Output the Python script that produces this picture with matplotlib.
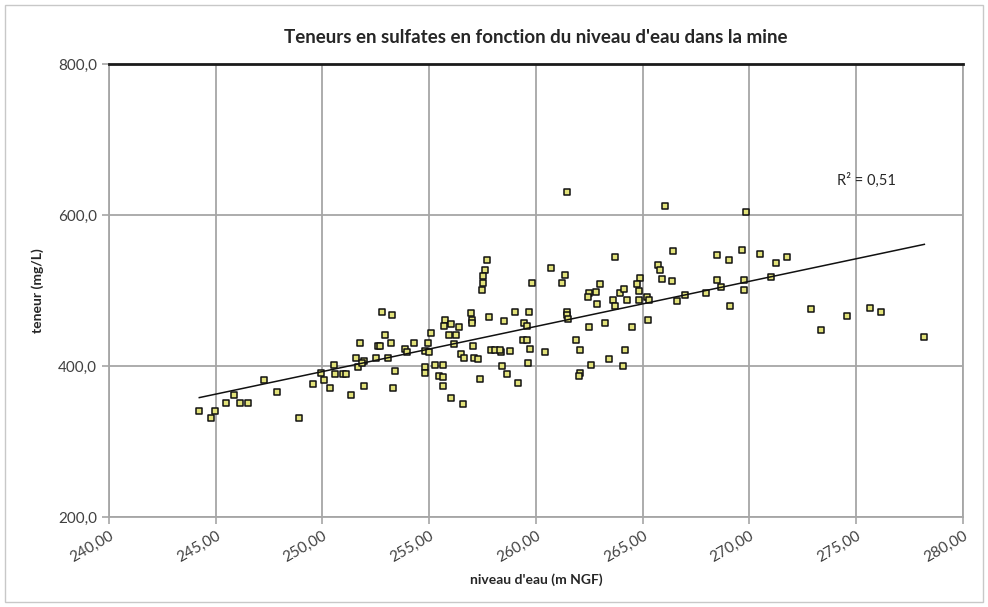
import matplotlib
matplotlib.use("Agg")
from matplotlib import pyplot as plt
from matplotlib.patches import Rectangle
from matplotlib.ticker import FuncFormatter
import numpy as np

plt.rcParams['font.family'] = ['Lato', 'DejaVu Sans']

# niveau d'eau (m NGF) et teneur en sulfates (mg/L)
niveau = [
    244.23, 244.76, 244.98, 245.48, 245.84, 246.15, 246.52, 247.26, 247.88, 248.91, 249.55,
    257.53, 257.45, 257.70, 257.60, 257.50,
    252.81, 253.26, 256.94, 257.00, 257.00, 257.78, 258.50, 259.03, 255.76, 255.68,
    256.00, 256.39, 255.94, 256.25, 255.06, 252.95, 253.19, 251.78, 252.58, 252.69,
    254.28, 254.96, 253.86, 253.94, 254.82, 255.00, 256.18, 257.07, 251.55, 251.94,
    251.67, 251.85, 252.52, 253.06, 256.48, 256.63, 257.11, 257.30, 257.87, 258.10,
    258.35, 258.76, 258.31, 249.94, 250.53, 250.57, 250.97, 251.10, 250.07, 250.35,
    251.32, 251.96, 253.32, 253.40, 254.82, 254.79, 255.27, 255.63, 255.47, 255.65,
    255.65, 256.00, 256.56, 257.37, 258.43, 258.65, 259.18,
    263.70, 266.40, 268.46, 260.70, 261.37, 261.23, 259.82, 265.73, 265.80, 265.90,
    266.38, 268.48, 263.00, 264.87, 264.74, 264.81, 264.81, 262.49, 262.42, 262.82,
    263.93, 264.12, 263.62, 264.27, 262.87, 263.69, 265.18, 265.29, 266.62, 267.00,
    267.95, 259.68, 259.44, 259.56, 261.44, 261.46, 261.51, 262.48, 263.21, 264.49,
    265.24, 259.40, 259.59, 259.72, 260.43, 259.64, 261.89, 262.07, 262.59, 262.07,
    262.03, 263.40, 264.18, 264.06,
    261.46, 266.02, 269.84, 269.05, 269.67,
    270.49, 271.24, 271.74, 268.65, 269.76, 269.74, 269.08, 271.00, 272.88, 273.36,
    274.57, 275.63, 276.17, 278.19,
]
teneur = [
    341, 331, 341, 351, 361, 351, 351, 381, 366, 331, 376,
    510, 500, 541, 527, 519,
    472, 468, 470, 461, 457, 465, 460, 472, 461, 453,
    456, 451, 441, 441, 444, 441, 431, 431, 427, 427,
    431, 431, 423, 418, 420, 419, 429, 426, 410, 407,
    398, 404, 411, 411, 416, 411, 411, 409, 421, 421,
    418, 420, 421, 391, 401, 390, 390, 390, 381, 371,
    361, 374, 371, 394, 399, 391, 401, 401, 387, 385,
    373, 357, 350, 383, 400, 390, 378,
    545, 552, 547, 530, 520, 510, 510, 534, 527, 515,
    512, 514, 509, 516, 509, 499, 488, 496, 491, 498,
    496, 502, 488, 488, 482, 480, 492, 487, 486, 494,
    497, 472, 457, 453, 471, 468, 462, 452, 457, 451,
    461, 434, 434, 423, 419, 404, 435, 421, 401, 391,
    387, 409, 421, 400,
    630, 612, 604, 540, 554,
    548, 537, 544, 505, 514, 500, 480, 518, 476, 447,
    466, 477, 471, 439,
]
r2_label = "R² = 0,51"

x = np.array(niveau)
y = np.array(teneur)

fig = plt.figure(figsize=(9.88, 6.07), dpi=100)
fig.patches.append(Rectangle((0.005, 0.008), 0.99, 0.984, transform=fig.transFigure,
                             fill=False, edgecolor='#c8c8c8', linewidth=1))
ax = fig.add_axes([0.1103, 0.1483, 0.8644, 0.7463])

ax.set_xlim(240, 280)
ax.set_ylim(200, 800)
ax.set_xticks(np.arange(240, 281, 5))
ax.set_yticks([200, 400, 600, 800])
ax.grid(True, color='#a6a6a6', linewidth=1.3)
ax.set_axisbelow(True)
for side in ['left', 'right', 'bottom']:
    ax.spines[side].set_color('#a6a6a6')
    ax.spines[side].set_linewidth(1.3)
ax.spines['top'].set_color('#1a1a1a')
ax.spines['top'].set_linewidth(2)

ax.xaxis.set_major_formatter(FuncFormatter(lambda v, p: f"{v:.2f}".replace('.', ',')))
ax.yaxis.set_major_formatter(FuncFormatter(lambda v, p: f"{v:.1f}".replace('.', ',')))
ax.tick_params(axis='both', colors='#a6a6a6', labelcolor='#404040', labelsize=11,
               length=5, width=1.2)
plt.setp(ax.get_xticklabels(), rotation=30, ha='right', rotation_mode='anchor')

ax.scatter(x, y, marker='s', s=24, facecolor='#e2e27a', edgecolor='#111111',
           linewidth=1.1, zorder=3)

# droite de tendance linéaire
a, b = np.polyfit(x, y, 1)
xs = np.array([x.min(), x.max()])
ax.plot(xs, a * xs + b, color='#111111', linewidth=1.1, zorder=4)
ax.text(274.1, 646, r2_label, fontsize=10.5, color='#262626', va='center', zorder=5)

ax.set_title("Teneurs en sulfates en fonction du niveau d'eau dans la mine",
             fontsize=13.5, fontweight='bold', color='#262626', pad=15)
ax.set_xlabel("niveau d'eau (m NGF)", fontsize=10, fontweight='bold', color='#262626', labelpad=6)
ax.set_ylabel("teneur (mg/L)", fontsize=10, fontweight='bold', color='#262626', labelpad=10)

fig.savefig("out.png", dpi=100)
